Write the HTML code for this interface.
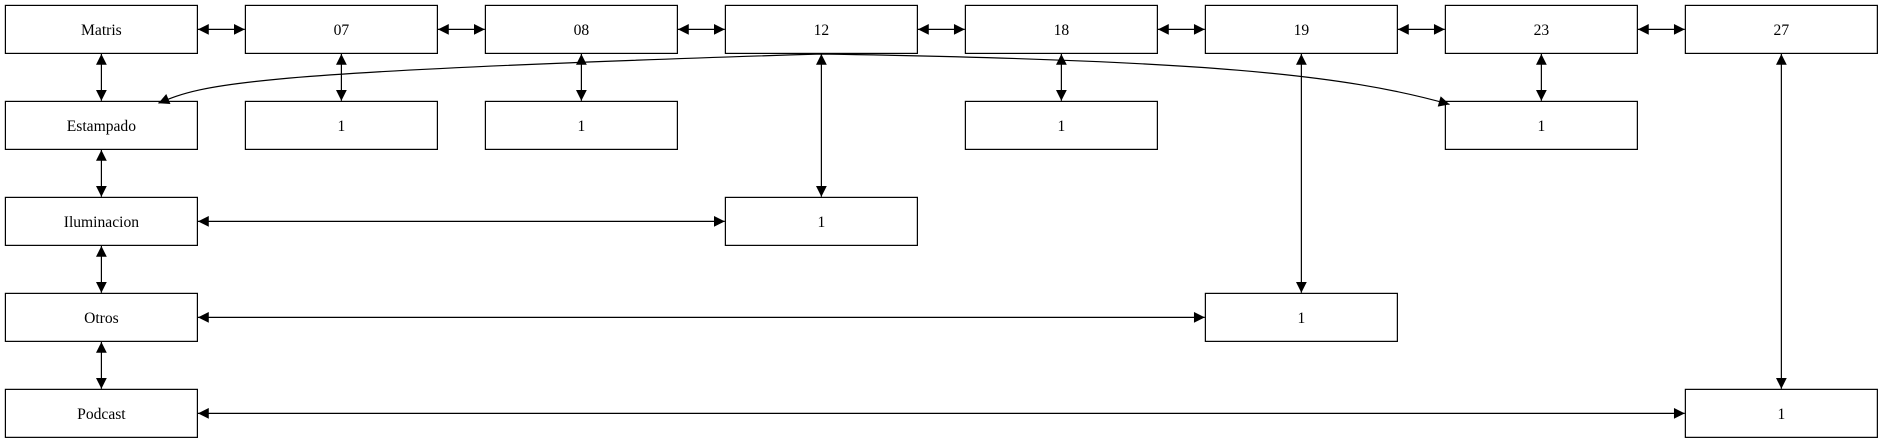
<!DOCTYPE html>
<html><head><meta charset="utf-8"><style>
html,body{margin:0;padding:0;background:#fff;}
svg text{font-family:"Liberation Serif",serif;font-size:13px;}
</style></head><body>
<svg width="1883" height="443" viewBox="0 0 1569.2 369.2" preserveAspectRatio="none" xmlns="http://www.w3.org/2000/svg" style="display:block">
<defs>
<marker id="a" viewBox="0 0 10 10" refX="10" refY="5" markerWidth="10" markerHeight="9" markerUnits="userSpaceOnUse" orient="auto-start-reverse"><path d="M0,0L10,5L0,10z" fill="#000"/></marker>
</defs>
<g fill="#fff" stroke="#000" stroke-width="1">
<rect x="4.5" y="4.5" width="160" height="40"/>
<rect x="204.5" y="4.5" width="160" height="40"/>
<rect x="404.5" y="4.5" width="160" height="40"/>
<rect x="604.5" y="4.5" width="160" height="40"/>
<rect x="804.5" y="4.5" width="160" height="40"/>
<rect x="1004.5" y="4.5" width="160" height="40"/>
<rect x="1204.5" y="4.5" width="160" height="40"/>
<rect x="1404.5" y="4.5" width="160" height="40"/>
<rect x="4.5" y="84.5" width="160" height="40"/>
<rect x="204.5" y="84.5" width="160" height="40"/>
<rect x="404.5" y="84.5" width="160" height="40"/>
<rect x="804.5" y="84.5" width="160" height="40"/>
<rect x="1204.5" y="84.5" width="160" height="40"/>
<rect x="4.5" y="164.5" width="160" height="40"/>
<rect x="604.5" y="164.5" width="160" height="40"/>
<rect x="4.5" y="244.5" width="160" height="40"/>
<rect x="1004.5" y="244.5" width="160" height="40"/>
<rect x="4.5" y="324.5" width="160" height="40"/>
<rect x="1404.5" y="324.5" width="160" height="40"/>
</g>
<g stroke="#000" stroke-width="1" fill="none" marker-start="url(#a)" marker-end="url(#a)">
<line x1="165" y1="24.5" x2="204" y2="24.5"/>
<line x1="365" y1="24.5" x2="404" y2="24.5"/>
<line x1="565" y1="24.5" x2="604" y2="24.5"/>
<line x1="765" y1="24.5" x2="804" y2="24.5"/>
<line x1="965" y1="24.5" x2="1004" y2="24.5"/>
<line x1="1165" y1="24.5" x2="1204" y2="24.5"/>
<line x1="1365" y1="24.5" x2="1404" y2="24.5"/>
<line x1="84.5" y1="45" x2="84.5" y2="84"/>
<line x1="84.5" y1="125" x2="84.5" y2="164"/>
<line x1="84.5" y1="205" x2="84.5" y2="244"/>
<line x1="84.5" y1="285" x2="84.5" y2="324"/>
<line x1="284.5" y1="45" x2="284.5" y2="84"/>
<line x1="484.5" y1="45" x2="484.5" y2="84"/>
<line x1="884.5" y1="45" x2="884.5" y2="84"/>
<line x1="1284.5" y1="45" x2="1284.5" y2="84"/>
<line x1="684.5" y1="45" x2="684.5" y2="164"/>
<line x1="1084.5" y1="45" x2="1084.5" y2="244"/>
<line x1="1484.5" y1="45" x2="1484.5" y2="324"/>
<line x1="165" y1="184.5" x2="604" y2="184.5"/>
<line x1="165" y1="264.5" x2="1004" y2="264.5"/>
<line x1="165" y1="344.5" x2="1404" y2="344.5"/>
<path d="M132,86 C170,70 200,60 684,45 C1000,50 1120,62 1208,87"/>
</g>
<g text-anchor="middle" fill="#000">
<text x="84.5" y="29">Matris</text>
<text x="284.5" y="29">07</text>
<text x="484.5" y="29">08</text>
<text x="684.5" y="29">12</text>
<text x="884.5" y="29">18</text>
<text x="1084.5" y="29">19</text>
<text x="1284.5" y="29">23</text>
<text x="1484.5" y="29">27</text>
<text x="84.5" y="109">Estampado</text>
<text x="284.5" y="109">1</text>
<text x="484.5" y="109">1</text>
<text x="884.5" y="109">1</text>
<text x="1284.5" y="109">1</text>
<text x="84.5" y="189">Iluminacion</text>
<text x="684.5" y="189">1</text>
<text x="84.5" y="269">Otros</text>
<text x="1084.5" y="269">1</text>
<text x="84.5" y="349">Podcast</text>
<text x="1484.5" y="349">1</text>
</g>
</svg>
</body></html>
